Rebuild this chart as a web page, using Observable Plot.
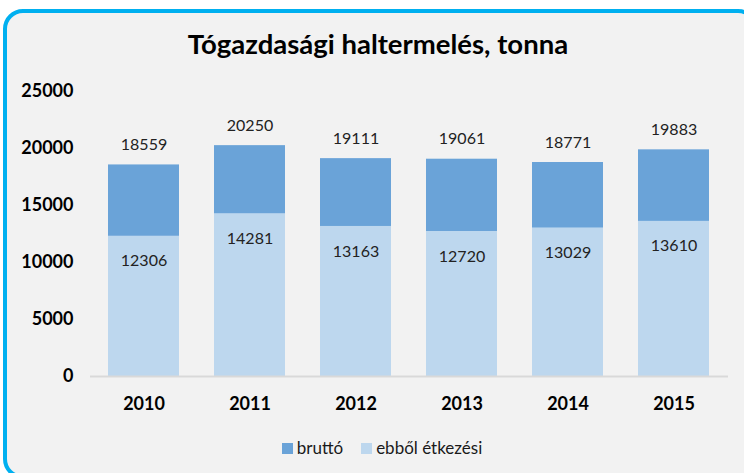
<!DOCTYPE html>
<html>
<head>
<meta charset="utf-8">
<script src="https://cdn.jsdelivr.net/npm/d3@7"></script>
<script src="https://cdn.jsdelivr.net/npm/@observablehq/plot@0.6"></script>
<style>
  html, body { margin: 0; padding: 0; background: #ffffff; width: 744px; height: 473px; overflow: hidden; }
  #frame {
    position: absolute; left: 3px; top: 9px; width: 755px; height: 470px;
    box-sizing: border-box; border: 4px solid #00b0f0; border-radius: 20px;
    background: #f2f2f2;
  }
  #title {
    position: absolute; left: 0; top: 27px; width: 756px; text-align: center;
    font-family: Lato, "Open Sans", sans-serif; font-weight: bold; font-size: 27.5px; color: #000;
  }
  #chart { position: absolute; left: 0; top: 0; }
  #legend {
    position: absolute; left: 0; top: 437px; width: 744px; text-align: center;
    font-family: Lato, sans-serif; font-size: 17px; color: #1a1a1a;
    padding-left: 20px; box-sizing: border-box;
  }
  .sw { display: inline-block; width: 11px; height: 11px; margin-right: 4px; vertical-align: 0px; }
  .item { display: inline-block; margin: 0 9px; }
</style>
</head>
<body>
<div id="frame"></div>
<div id="title">Tógazdasági haltermelés, tonna</div>
<div id="chart"></div>
<div id="legend"></div>
<script>
const years = ["2010", "2011", "2012", "2013", "2014", "2015"];
const brutto = [18559, 20250, 19111, 19061, 18771, 19883];
const etkezesi = [12306, 14281, 13163, 12720, 13029, 13610];
const yTicks = [0, 5000, 10000, 15000, 20000, 25000];
const seriesNames = ["bruttó", "ebből étkezési"];
const colors = ["#6aa3d8", "#bdd7ee"];

const rows = years.map((y, i) => ({year: y, brutto: brutto[i], etk: etkezesi[i]}));

const plot = Plot.plot({
  width: 744,
  height: 473,
  marginLeft: 90,
  marginRight: 16,
  marginTop: 91,
  marginBottom: 97,
  style: {background: "transparent", fontFamily: "Lato, sans-serif", overflow: "visible"},
  x: {domain: years, paddingInner: 0.33, paddingOuter: 0.165, axis: null},
  y: {domain: [0, 25000], axis: null},
  marks: [
    Plot.barY(rows, {x: "year", y1: 0, y2: "brutto", fill: colors[0]}),
    Plot.barY(rows, {x: "year", y1: 0, y2: "etk", fill: colors[1]}),
    Plot.ruleY([0], {stroke: "#d9d9d9", strokeWidth: 2}),
    Plot.axisY({ticks: yTicks, tickSize: 0, tickPadding: 17, tickFormat: d => String(d),
      fontSize: 18, fontWeight: "bold", fill: "#000", label: null}),
    Plot.text(years, {x: d => d, frameAnchor: "bottom", dy: 28, lineAnchor: "middle",
      fontSize: 18, fontWeight: "bold", fill: "#000"}),
    Plot.text(rows, {x: "year", y: "brutto", text: d => String(d.brutto), dy: -20,
      lineAnchor: "middle", fontSize: 16, fill: "#222"}),
    Plot.text(rows, {x: "year", y: "etk", text: d => String(d.etk), dy: 25,
      lineAnchor: "middle", fontSize: 16, fill: "#222"})
  ]
});
document.getElementById("chart").appendChild(plot);

const legend = document.getElementById("legend");
seriesNames.forEach((name, i) => {
  const item = document.createElement("span");
  item.className = "item";
  const sw = document.createElement("span");
  sw.className = "sw";
  sw.style.background = colors[i];
  item.appendChild(sw);
  item.appendChild(document.createTextNode(name));
  legend.appendChild(item);
});
</script>
</body>
</html>
